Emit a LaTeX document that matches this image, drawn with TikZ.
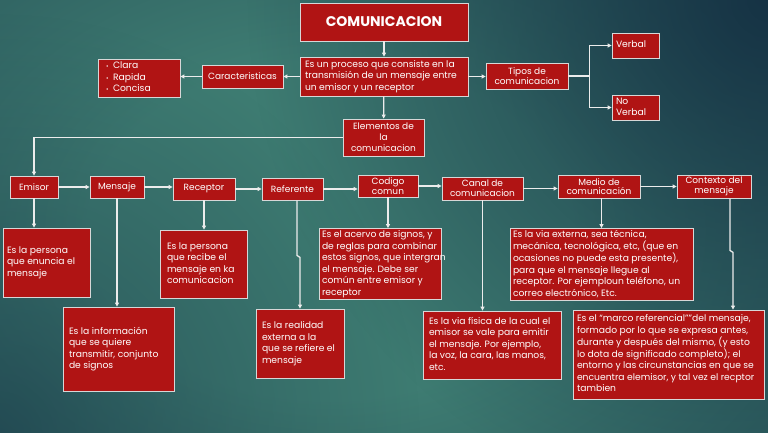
\documentclass[tikz,border=0pt]{standalone}
\usepackage{fontspec}
\setmainfont{Poppins}
\usetikzlibrary{arrows.meta,calc,fadings}
\definecolor{boxred}{RGB}{176,20,20}
\definecolor{boxline}{RGB}{215,215,215}
\definecolor{wline}{RGB}{236,236,236}
\definecolor{bgin}{RGB}{62,124,114}
\definecolor{bgout}{RGB}{20,48,66}
\definecolor{bgdark}{RGB}{16,40,62}
\pgfdeclareradialshading{bgglow}{\pgfpoint{0bp}{0bp}}{color(0bp)=(bgin); color(12bp)=(bgin); color(50bp)=(bgout); color(100bp)=(bgout)}
\tikzfading[name=darkspot, inner color=transparent!0, outer color=transparent!100]
\tikzset{
  rb/.style={draw=boxline, line width=0.8pt, fill=boxred, text=white, inner sep=1pt,
             font=\fontsize{9}{9.7}\selectfont},
  cbox/.style={align=center},
  arr/.style={draw=wline, line width=1.3pt, -{Triangle[length=4pt,width=4pt]}},
  ln/.style={draw=wline, line width=1.3pt}
}
% name x1 y1 x2 y2 options text
\newcommand\RB[7]{%
  \pgfmathsetmacro\rbw{#4-#2}%
  \pgfmathsetmacro\rbh{#5-#3}%
  \pgfmathsetmacro\rbcx{(#2+#4)/2}%
  \pgfmathsetmacro\rbcy{(#3+#5)/2}%
  \node[rb,minimum width=\rbw pt,minimum height=\rbh pt,#6] (#1) at (\rbcx,\rbcy) {#7};}
% name x1 y1 x2 y2 pad text  (left aligned lines, no wrapping)
\newcommand\DB[7]{%
  \pgfmathsetmacro\rbw{#4-#2}%
  \pgfmathsetmacro\rbh{#5-#3}%
  \pgfmathsetmacro\rbt{#4-#2-2*#6}%
  \pgfmathsetmacro\rbcx{(#2+#4)/2}%
  \pgfmathsetmacro\rbcy{(#3+#5)/2}%
  \node[rb,inner xsep=#6 pt,minimum width=\rbw pt,minimum height=\rbh pt,
        font=\fontsize{9.2}{11.5}\selectfont] (#1) at (\rbcx,\rbcy)
        {\makebox[\rbt pt][l]{\begin{tabular}{@{}l@{}}#7\end{tabular}}};}
\newcommand\bul{\makebox[7pt][l]{\fontsize{6}{6}\selectfont•}}
\begin{document}
\begin{tikzpicture}[x=1pt,y=-1pt]
\useasboundingbox (0,0) rectangle (768,433);
\begin{scope}
  \clip (0,0) rectangle (768,433);
  \shade[shading=bgglow] (-170,-120) rectangle (830,580);
  \fill[bgdark, path fading=darkspot, opacity=0.8] (768,0) circle (520);
  \fill[bgdark, path fading=darkspot, opacity=0.45] (0,433) circle (420);
\end{scope}

% top part
\RB{com}{300}{3}{468}{41}{cbox,font=\bfseries\fontsize{14}{16}\selectfont}{COMUNICACION}
\DB{desc}{300}{57}{468}{96}{5}{Es un proceso que consiste en la\\transmisión de un mensaje entre\\un emisor y un receptor}
\RB{carac}{202}{65}{283}{88}{cbox}{Caracteristicas}
\DB{clara}{98}{59}{180}{97}{8}{\bul Clara\\\bul Rapida\\\bul Concisa}
\RB{tipos}{486}{63}{568}{89}{cbox}{Tipos de\\comunicacion}
\DB{verbal}{612}{33}{659}{58}{4}{Verbal}
\DB{noverbal}{612}{95}{659}{120}{4}{No\\Verbal}
\RB{elem}{343}{119}{424}{156}{cbox,font=\fontsize{9}{11}\selectfont}{Elementos de\\la\\comunicacion}

% row
\RB{emisor}{10}{176}{58}{198}{cbox}{Emisor}
\RB{mensaje}{90}{176}{144}{198}{cbox}{Mensaje}
\RB{receptor}{173}{178}{235}{200}{cbox}{Receptor}
\RB{referente}{262}{178}{323}{200}{cbox}{Referente}
\RB{codigo}{358}{175}{418}{197}{cbox}{Codigo\\comun}
\RB{canal}{442}{177}{523}{200}{cbox}{Canal de\\comunicacion}
\RB{medio}{558}{175}{640}{198}{cbox}{Medio de\\comunicación}
\RB{contexto}{677}{175}{751}{198}{cbox}{Contexto del\\mensaje}

% descriptions
\DB{emdesc}{3}{228}{90}{297}{4}{Es la persona\\que enuncia el\\mensaje}
\DB{mdesc}{63}{307}{174}{391}{6}{Es la información\\que se quiere\\transmitir, conjunto\\de signos}
\DB{rdesc}{160}{230}{247}{298}{7}{Es la persona\\que recibe el\\mensaje en ka\\comunicacion}
\DB{refdesc}{256}{309}{344}{378}{6}{Es la realidad\\externa a la\\que se refiere el\\mensaje}
\DB{cdesc}{319}{230}{441}{298}{3}{Es el acervo de signos, y\\de reglas para combinar\\estos signos, que intergran\\el mensaje. Debe ser\\común entre emisor y\\receptor}
\DB{candesc}{423}{311}{561}{379}{6}{Es la via física de la cual el\\emisor se vale para emitir\\el mensaje. Por ejemplo,\\la voz, la cara, las manos,\\etc.}
\DB{mdesc2}{510}{231}{693}{298}{3}{Es la via externa, sea técnica,\\mecánica, tecnológica, etc, (que en\\ocasiones no puede esta presente),\\para que el mensaje llegue al\\receptor. Por ejemploun teléfono, un\\correo electrónico, Etc.}
\DB{ctxdesc}{573}{310}{764}{399}{4}{Es el “marco referencial””del mensaje,\\formado por lo que se expresa antes,\\durante y después del mismo, (y esto\\lo dota de significado completo); el\\entorno y las circunstancias en que se\\encuentra elemisor, y tal vez el recptor\\tambien}

% connectors top
\draw[arr] (com) -- (desc);
\draw[arr] (desc.west) -- (carac.east);
\draw[arr] (carac.west) -- (carac.west -| clara.east);
\draw[arr] (desc.east) -- (desc.east -| tipos.west);
\coordinate (br) at ($(tipos.east)+(21,0)$);
\draw[ln] (tipos.east) -- (br);
\draw[arr] (br) |- (verbal.west);
\draw[arr] (br) |- (noverbal.west);
\draw[arr] (desc) -- (elem);
\draw[arr] (elem.west) -| (emisor.north);

% row connectors
\foreach \a/\b in {emisor/mensaje, mensaje/receptor, receptor/referente, referente/codigo, codigo/canal, canal/medio, medio/contexto}
  \draw[arr] (\a.east) -- (\a.east -| \b.west);

% description connectors
\draw[arr] (emisor.south) -- (emisor.south |- emdesc.north);
\draw[arr] (mensaje.south) -- (mensaje.south |- mdesc.north);
\draw[arr] (receptor.south) -- (receptor.south |- rdesc.north);
\coordinate (rj) at ($(referente.south)+(7.5,57)$);
\draw[arr] ([xshift=4.5pt]referente.south) -- ++(0,55) -- (rj) -- (rj |- refdesc.north);
\draw[arr] (codigo.south) -- (codigo.south |- cdesc.north);
\draw[arr] (canal.south) -- (canal.south |- candesc.north);
\draw[arr] (medio.south -| mdesc2.north) -- (mdesc2.north);
\coordinate (cj) at ($(contexto.south)+(19,54)$);
\draw[arr] ([xshift=16pt]contexto.south) -- ++(0,52) -- (cj) -- (cj |- ctxdesc.north);
\end{tikzpicture}
\end{document}
